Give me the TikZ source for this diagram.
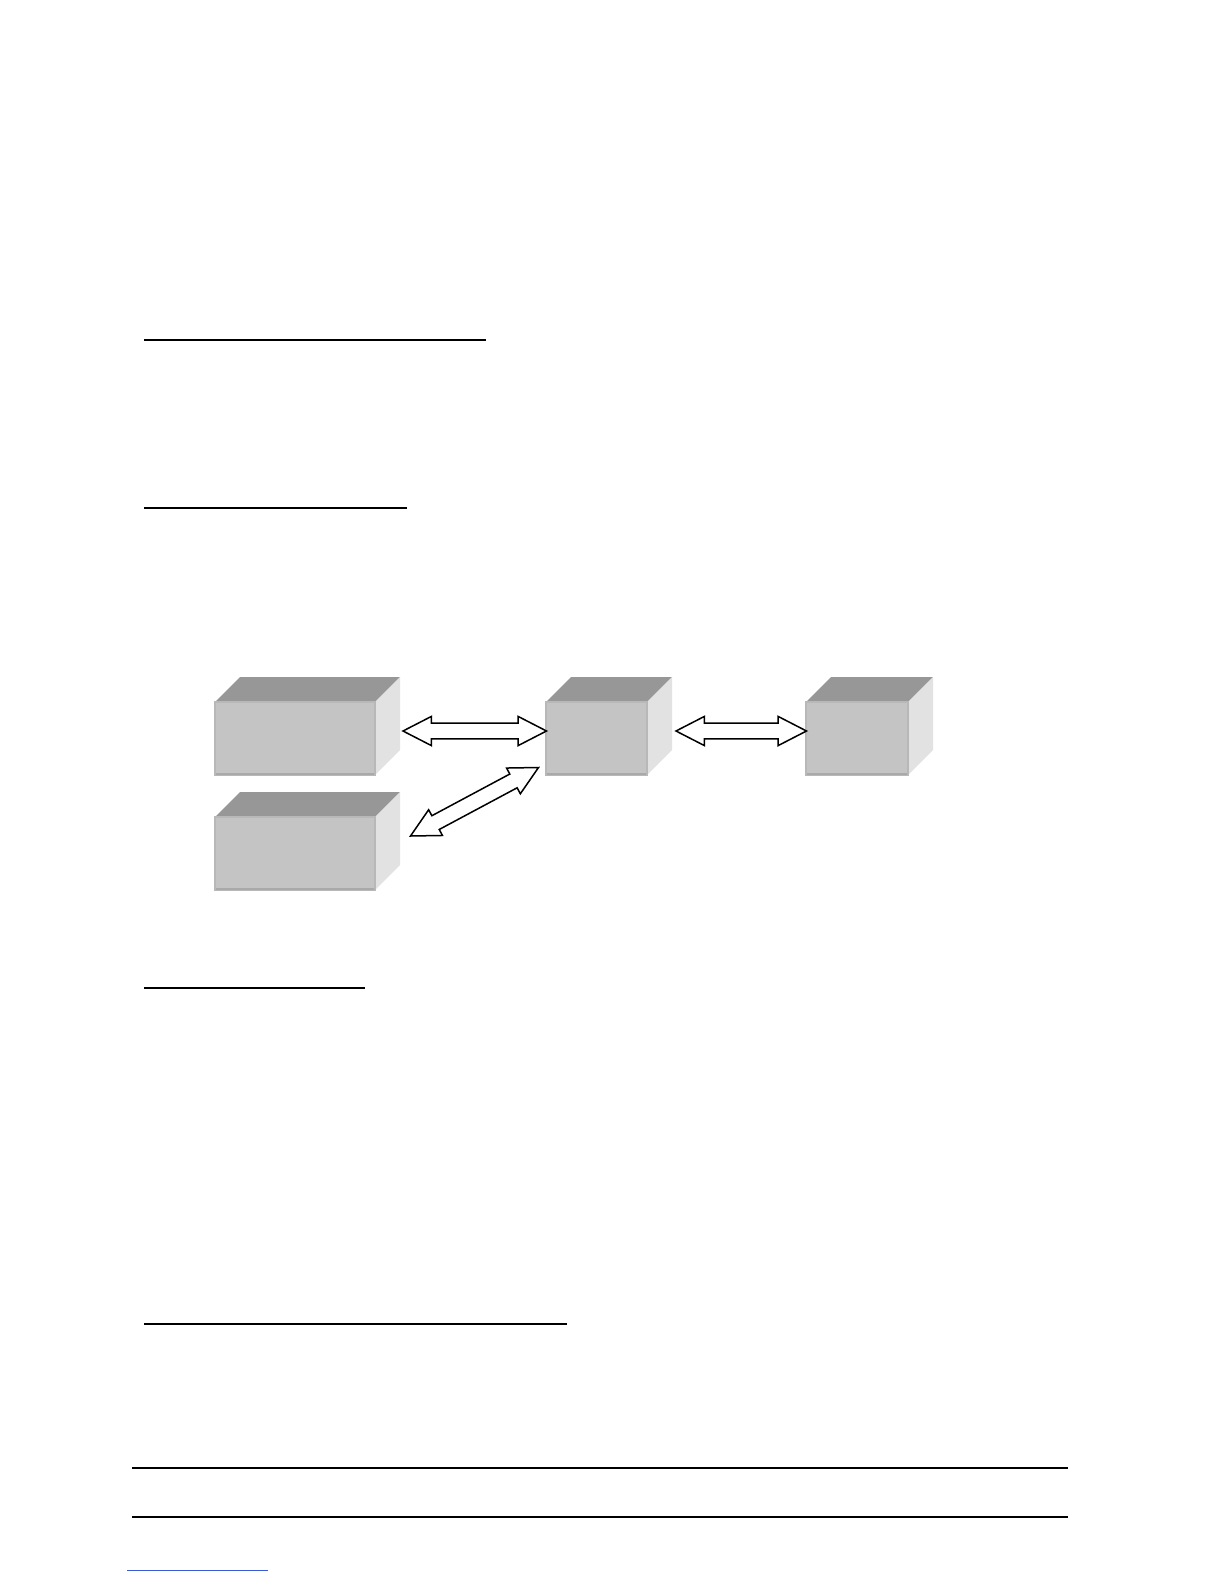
\documentclass[tikz,border=0pt]{standalone}
\usetikzlibrary{calc}
\definecolor{fronc}{HTML}{C4C4C4}
\definecolor{frontedge}{HTML}{B8B8B8}
\definecolor{frontbot}{HTML}{A9A9A9}
\definecolor{topc}{HTML}{979797}
\definecolor{sidec}{HTML}{E2E2E2}
\definecolor{linkblue}{HTML}{3B5BD6}
\tikzset{
  frontface/.style={rectangle, inner sep=0pt, outer sep=0pt, fill=fronc, draw=frontedge, line width=0.6pt, anchor=north west},
  topface/.style={fill=topc},
  sideface/.style={fill=sidec},
  rulethick/.style={line width=1.1pt, black},
  rulethin/.style={line width=0.7pt, black},
  blockarrow/.style={draw=black, fill=white, line width=0.75pt, line join=miter},
}
% \cube{name}{x}{y}{w}{h}  (pixel units, top-left of front face)
\newcommand\cube[5]{%
  \fill[topface] (#2,#3) -- ++(25,-25) -- ++(#4,0) -- ++(-25,25) -- cycle;
  \fill[sideface] (#2+#4,#3) -- ++(25,-25) -- ++(0,#5) -- ++(-25,25) -- cycle;
  \node[frontface, minimum width=#4*0.5pt, minimum height=#5*0.5pt] (#1) at (#2,#3) {};
  \draw[frontbot, line width=1pt] ($(#1.south west)+(1,-1)$) -- ($(#1.south east)+(-1,-1)$);
}
% \dblarrow{A}{B}: double block arrow between two named coordinates
\newcommand\dblarrow[2]{%
  \coordinate (h1) at ($(#1)!14.2pt!(#2)$);
  \coordinate (h2) at ($(#2)!14.2pt!(#1)$);
  \draw[blockarrow] (#1)
    -- ($(h1)!7.3pt!90:(#2)$) -- ($(h1)!3.9pt!90:(#2)$)
    -- ($(h2)!3.9pt!-90:(#1)$) -- ($(h2)!7.3pt!-90:(#1)$)
    -- (#2)
    -- ($(h2)!7.3pt!90:(#1)$) -- ($(h2)!3.9pt!90:(#1)$)
    -- ($(h1)!3.9pt!-90:(#2)$) -- ($(h1)!7.3pt!-90:(#2)$)
    -- cycle;
}
\begin{document}
\begin{tikzpicture}[x=0.5pt, y=-0.5pt]
  \useasboundingbox (0,0) rectangle (1224,1584);
  % horizontal rules
  \draw[rulethick] (144,340) -- (486,340);
  \draw[rulethick] (144,508) -- (407,508);
  \draw[rulethick] (144,988) -- (365,988);
  \draw[rulethick, line width=1.3pt] (144,1324) -- (567,1324);
  \draw[rulethick] (132,1468) -- (1068,1468);
  \draw[rulethin] (132,1517) -- (1068,1517);
  \draw[linkblue, line width=0.5pt] (127,1570) -- (268,1570);
  % cubes
  \cube{A}{215}{702}{160}{73}
  \cube{B}{215}{817}{160}{73}
  \cube{C}{546}{702}{101}{73}
  \cube{D}{806}{702}{102}{73}
  % arrow end points
  \coordinate (a1) at ($(A.east)+(28,-7.5)$);
  \coordinate (c1) at ($(C.west)+(0.5,-7.5)$);
  \coordinate (c2) at ($(C.east)+(29,-7.5)$);
  \coordinate (d1) at ($(D.west)+(0.5,-7.5)$);
  \coordinate (b1) at ($(B.east)+(35.5,-17.5)$);
  \coordinate (c3) at ($(C.south west)+(-7.5,-7.5)$);
  \dblarrow{a1}{c1}
  \dblarrow{c2}{d1}
  \dblarrow{b1}{c3}
\end{tikzpicture}
\end{document}
